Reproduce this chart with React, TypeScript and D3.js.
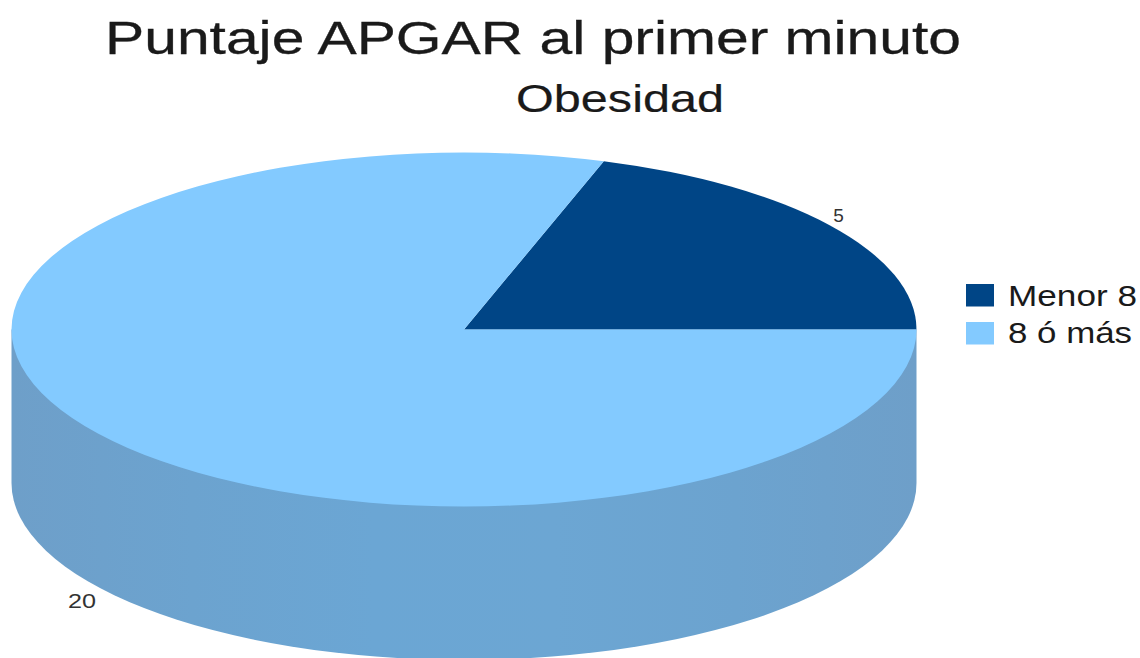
import React from "react";
import * as d3 from "d3";

const categories = ["Menor 8", "8 ó más"];
const values = [5, 20];
const topColors = ["#004586", "#83caff"];
const sideStops = ["#6e9fc9", "#6ca3cf", "#6ba6d4", "#6ca6d3", "#6ca3cf", "#6e9fc9"];
const title = "Puntaje APGAR al primer minuto";
const subtitle = "Obesidad";

const cx = 464;
const cy = 329.5;
const rx = 452.5;
const ry = 177;
const depth = 153.5;

export default function App() {
  const start = Math.PI / 2 - (2 * Math.PI * values[0]) / d3.sum(values);
  const pie = d3.pie<number>().sort(null).startAngle(start).endAngle(start + 2 * Math.PI);
  const arcs = pie(values);
  const arc = d3.arc<d3.PieArcDatum<number>>().innerRadius(0).outerRadius(1);
  const stopPos = d3.scaleLinear().domain([0, sideStops.length - 1]).range([0, 100]);
  return (
    <svg width={1140} height={658} style={{ position: "absolute", left: 0, top: 0, background: "#fff" }}>
      <defs>
        <linearGradient id="side" x1="0" x2="1" y1="0" y2="0">
          {sideStops.map((c, i) => (
            <stop key={i} offset={`${stopPos(i)}%`} stopColor={c} />
          ))}
        </linearGradient>
      </defs>
      <path
        d={`M${cx - rx},${cy} V${cy + depth} A${rx},${ry} 0 0 0 ${cx + rx},${cy + depth} V${cy} Z`}
        fill="url(#side)"
      />
      <g transform={`translate(${cx},${cy}) scale(${rx},${ry})`}>
        {arcs.map((a, i) => (
          <path key={i} d={arc(a) ?? ""} fill={topColors[i]} />
        ))}
      </g>
      <g fontFamily="Liberation Sans">
        <text x={533} y={53.5} fontSize={46} textAnchor="middle" fill="#1a1a1a" stroke="#1a1a1a" strokeWidth={0.3} textLength={856} lengthAdjust="spacingAndGlyphs">{title}</text>
        <text x={620} y={112} fontSize={39} textAnchor="middle" fill="#1a1a1a" stroke="#1a1a1a" strokeWidth={0.2} textLength={208} lengthAdjust="spacingAndGlyphs">{subtitle}</text>
        <text x={838.5} y={222} fontSize={19} textAnchor="middle" fill="#333">{values[0]}</text>
        <text x={82} y={608} fontSize={20} textAnchor="middle" fill="#333" textLength={28} lengthAdjust="spacingAndGlyphs">{values[1]}</text>
        {categories.map((c, i) => (
          <g key={c}>
            <rect x={966} y={284 + i * 38} width={28} height={22.5} fill={topColors[i]} />
            <text x={1008} y={306 + i * 37} fontSize={30} fill="#1a1a1a" textLength={i === 0 ? 129 : 124} lengthAdjust="spacingAndGlyphs">{c}</text>
          </g>
        ))}
      </g>
    </svg>
  );
}
